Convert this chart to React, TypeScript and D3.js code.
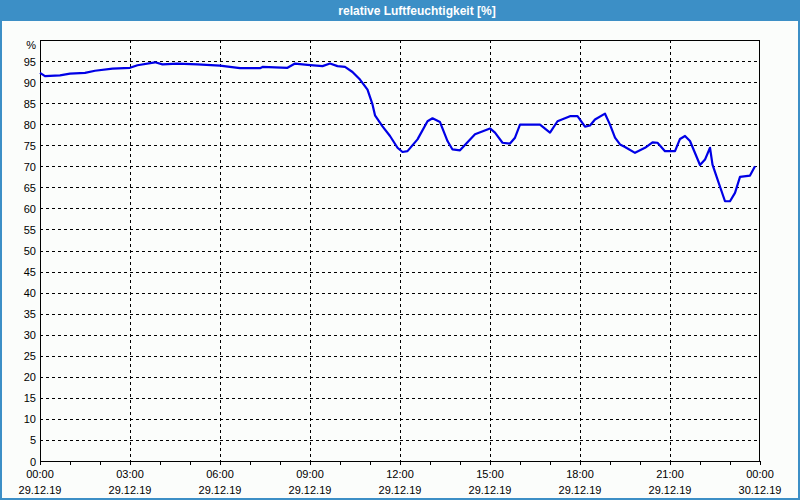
import React from "react";
import * as d3 from "d3";

const TITLE = "relative Luftfeuchtigkeit [%]";
const Y_UNIT = "%";
const DAY = "2019-12-29";
const END = "2019-12-30T00:00";

const times = [
  "00:00","00:10","00:40","01:00","01:30","01:50","02:25","03:00","03:15","03:50",
  "04:05","04:35","05:15","06:00","06:40","07:20","07:25","08:15","08:30","08:55",
  "09:25","09:40","09:55","10:10","10:25","10:40","10:55","11:05","11:10","11:25",
  "11:40","11:55","12:05","12:15","12:35","12:55","13:05","13:20","13:35","13:45",
  "14:00","14:30","15:00","15:10","15:25","15:40","15:50","16:00","16:40","17:00",
  "17:15","17:40","17:55","18:00","18:10","18:20","18:30","18:50","19:00","19:10",
  "19:20","19:30","19:50","20:10","20:25","20:35","20:50","21:10","21:20","21:30",
  "21:40","22:00","22:10","22:20","22:25","22:35","22:50","23:00","23:10","23:20",
  "23:40","23:50"
];
const humidity = [
  92.2,91.4,91.6,92.0,92.2,92.7,93.2,93.4,94.0,94.7,
  94.2,94.4,94.2,93.9,93.3,93.3,93.6,93.4,94.4,94.1,
  93.8,94.4,93.8,93.6,92.4,90.6,88.2,84.7,82.1,79.5,
  77.2,74.4,73.4,73.6,76.4,80.7,81.4,80.5,76.0,74.0,
  73.8,77.6,79.0,78.0,75.6,75.4,76.8,79.9,79.9,78.0,
  80.7,81.9,81.9,81.1,79.4,79.7,81.1,82.5,79.9,76.8,
  75.2,74.6,73.2,74.4,75.7,75.6,73.6,73.6,76.5,77.2,
  76.0,70.3,71.6,74.4,70.4,66.9,61.7,61.7,63.7,67.5,
  67.8,70.0
];
const yTicks = [0,5,10,15,20,25,30,35,40,45,50,55,60,65,70,75,80,85,90,95];

const W = 800, H = 500;
const L = 40, R = 760, T = 40, B = 461;
const FONT = "'Liberation Sans', Arial, sans-serif";

export default function App() {
  const parse = d3.timeParse("%Y-%m-%dT%H:%M");
  const start = parse(DAY + "T00:00")!;
  const end = parse(END)!;
  const x = d3.scaleTime().domain([start, end]).range([L, R]);
  const y = d3.scaleLinear().domain([0, 100]).range([B, T]);
  const data = times.map((t, i) => ({ t: parse(DAY + "T" + t)!, v: humidity[i] }));
  const line = d3.line<{ t: Date; v: number }>().x(d => x(d.t)).y(d => y(d.v));
  const majorTicks = x.ticks(d3.timeHour.every(3)!);
  const minorTicks = x.ticks(d3.timeHour.every(1)!);
  const fTime = d3.timeFormat("%H:%M");
  const fDate = d3.timeFormat("%d.%m.%y");
  const crisp = (v: number) => Math.round(v) + 0.5;

  return (
    <svg width={W} height={H} style={{ position: "fixed", left: 0, top: 0 }} fontFamily={FONT}>
      <rect x={0} y={0} width={W} height={H} fill="#3c8fc6" />
      <rect x={2} y={21} width={W - 4} height={H - 23} fill="#fbfdfb" />
      <text x={417} y={15} fill="#ffffff" fontSize={12} fontWeight="bold" textAnchor="middle">{TITLE}</text>

      {yTicks.filter(v => v > 0).map(v => (
        <line key={"h" + v} x1={L} x2={R} y1={crisp(y(v))} y2={crisp(y(v))}
          stroke="#000" strokeDasharray="3,3" shapeRendering="crispEdges" />
      ))}
      {majorTicks.filter(t => +t !== +start && +t !== +end).map(t => (
        <line key={"v" + +t} x1={crisp(x(t))} x2={crisp(x(t))} y1={T} y2={B}
          stroke="#000" strokeDasharray="3,3" shapeRendering="crispEdges" />
      ))}
      <rect x={L + 0.5} y={T + 0.5} width={R - L - 1} height={B - T} fill="none" stroke="#000" shapeRendering="crispEdges" />
      {minorTicks.map(t => (
        <line key={"m" + +t} x1={crisp(x(t))} x2={crisp(x(t))} y1={B} y2={B + 4}
          stroke="#000" shapeRendering="crispEdges" />
      ))}
      {yTicks.map(v => (
        <text key={"yl" + v} x={36} y={y(v) + 4.5} fontSize={11} textAnchor="end" fill="#000">{v}</text>
      ))}
      <text x={36} y={49} fontSize={11} textAnchor="end" fill="#000">{Y_UNIT}</text>
      {majorTicks.map(t => (
        <g key={"xl" + +t}>
          <text x={x(t)} y={478} fontSize={11} textAnchor="middle" fill="#000">{fTime(t)}</text>
          <text x={x(t)} y={494} fontSize={11} textAnchor="middle" fill="#000">{fDate(t)}</text>
        </g>
      ))}
      <path d={line(data) || ""} fill="none" stroke="#0000e6" strokeWidth={2.2} strokeLinejoin="round" />
    </svg>
  );
}
